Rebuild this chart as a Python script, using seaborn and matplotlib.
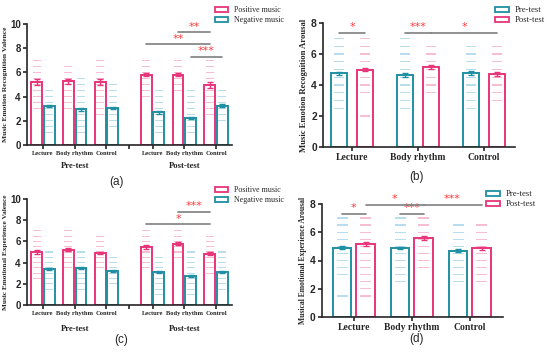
import numpy as np
import pandas as pd
import seaborn as sns
import matplotlib.pyplot as plt
from matplotlib.path import Path
from matplotlib.patches import Patch
from matplotlib.transforms import blended_transform_factory

PINK = "#E8347A"
TEAL = "#1F8FA3"
PALE_PINK = "#F7BDD3"
PALE_TEAL = "#B8DDEF"
LINE_GRAY = "#7F7F7F"
STAR_RED = "#FF3B3B"
SERIF = "Liberation Serif"
SANS = "Liberation Sans"

# ---------------- (a) Music Emotion Recognition Valence ----------------
A_GROUPS = ["Lecture", "Body rhythm", "Control", "Lecture", "Body rhythm", "Control"]
A_SERIES = ["Positive music", "Negative music"]
A_POS_MEAN = [5.2, 5.25, 5.2, 5.8, 5.8, 4.95]
A_NEG_MEAN = [3.2, 2.95, 3.05, 2.7, 2.25, 3.25]
A_POS_SEM = [0.22, 0.18, 0.22, 0.12, 0.12, 0.22]
A_NEG_SEM = [0.1, 0.1, 0.1, 0.1, 0.1, 0.12]
A_POS_PTS = [[3, 3.5, 4, 4.5, 5, 5.5, 6, 6.5, 7],
             [3, 3.5, 4, 4.5, 5, 5.5, 6, 6.5],
             [2.5, 3, 3.5, 4, 4.5, 5, 5.5, 6, 6.5, 7],
             [4, 4.5, 5, 5.5, 6, 6.5, 7],
             [4.5, 5, 5.5, 6, 6.5, 7],
             [2.5, 3, 3.5, 4, 4.5, 5, 5.5, 6, 6.5, 7]]
A_NEG_PTS = [[1, 1.5, 2, 2.5, 3, 3.5, 4, 4.5],
             [1, 1.5, 2, 2.5, 3, 3.5, 4, 4.5, 5, 5.5],
             [1.5, 2, 2.5, 3, 3.5, 4, 4.5, 5],
             [1, 1.5, 2, 2.5, 3, 3.5, 4, 4.5],
             [1, 1.5, 2, 2.5, 3, 3.5, 4, 4.5],
             [2, 2.5, 3, 3.5, 4, 4.5]]
# (group, series, group, series, height, label)
A_SIG = [(4, 0, 5, 0, 9.3, "**"), (3, 0, 5, 0, 8.35, "**"), (4, 1, 5, 1, 7.3, "***")]

# ---------------- (b) Music Emotion Recognition Arousal ----------------
B_GROUPS = ["Lecture", "Body rhythm", "Control"]
B_SERIES = ["Pre-test", "Post-test"]
B_PRE_MEAN = [4.75, 4.65, 4.78]
B_POST_MEAN = [5.0, 5.15, 4.7]
B_PRE_SEM = [0.12, 0.12, 0.12]
B_POST_SEM = [0.12, 0.12, 0.12]
B_PRE_PTS = [[2.5, 3, 3.5, 4, 4.5, 5, 5.5, 6, 6.5, 7],
             [2.5, 3, 3.5, 4, 4.5, 5, 5.5, 6, 6.5, 7],
             [2.5, 3, 3.5, 4, 4.5, 5, 5.5, 6, 6.5]]
B_POST_PTS = [[2, 3.5, 4, 4.5, 5, 5.5, 6, 6.5, 7],
              [3.5, 4, 4.5, 5, 5.5, 6, 6.5],
              [3, 3.5, 4, 4.5, 5, 5.5, 6, 6.5]]
B_SIG = [(0, 0, 0, 1, 7.35, "*"), (1, 0, 1, 1, 7.35, "***"), (1, 1, 2, 1, 7.35, "*")]

# ---------------- (c) Music Emotional Experience Valence ----------------
C_POS_MEAN = [5.0, 5.2, 4.9, 5.45, 5.8, 4.85]
C_NEG_MEAN = [3.4, 3.45, 3.2, 3.15, 2.75, 3.15]
C_POS_SEM = [0.2, 0.15, 0.12, 0.18, 0.12, 0.18]
C_NEG_SEM = [0.1, 0.1, 0.1, 0.1, 0.1, 0.1]
C_POS_PTS = [[2.5, 3, 3.5, 4, 4.5, 5, 5.5, 6, 6.5, 7],
             [3.5, 4, 4.5, 5, 5.5, 6, 6.5, 7],
             [3.5, 4, 4.5, 5, 5.5, 6, 6.5],
             [3.5, 4, 4.5, 5, 5.5, 6, 6.5, 7],
             [4.5, 5, 5.5, 6, 6.5, 7],
             [3, 3.5, 4, 4.5, 5, 5.5, 6, 6.5]]
C_NEG_PTS = [[1.5, 2, 2.5, 3, 3.5, 4, 4.5, 5],
             [1.5, 2, 2.5, 3, 3.5, 4, 4.5, 5],
             [2, 2.5, 3, 3.5, 4, 4.5],
             [1, 1.5, 2, 2.5, 3, 3.5, 4, 4.5],
             [1, 1.5, 2, 2.5, 3, 3.5, 4, 4.5, 5],
             [1.5, 2, 2.5, 3, 3.5, 4, 4.5, 5]]
C_SIG = [(4, 0, 5, 0, 8.8, "***"), (3, 0, 5, 0, 7.6, "*")]

# ---------------- (d) Musical Emotional Experience Arousal ----------------
D_PRE_MEAN = [4.9, 4.9, 4.7]
D_POST_MEAN = [5.15, 5.6, 4.85]
D_PRE_SEM = [0.1, 0.08, 0.12]
D_POST_SEM = [0.15, 0.12, 0.1]
D_PRE_PTS = [[1.5, 3, 3.5, 4, 4.5, 5, 5.5, 6, 6.5, 7],
             [2.5, 3, 3.5, 4, 4.5, 5, 5.5, 6, 6.5, 7],
             [2.5, 3, 3.5, 4, 4.5, 5, 5.5, 6, 6.5]]
D_POST_PTS = [[1.5, 2, 2.5, 3, 3.5, 4, 4.5, 5, 5.5, 6, 6.5, 7],
              [3.5, 4, 4.5, 5, 5.5, 6, 6.5, 7],
              [2.5, 3, 3.5, 4, 4.5, 5, 5.5, 6, 6.5]]
D_SIG = [(0, 0, 0, 1, 7.3, "*"), (1, 0, 1, 1, 7.3, "***"),
         (0, 1, 1, 1, 7.95, "*"), (1, 1, 2, 1, 7.95, "***")]

DASH = Path([(-1, -0.13), (1, -0.13), (1, 0.13), (-1, 0.13), (-1, -0.13)],
            [Path.MOVETO, Path.LINETO, Path.LINETO, Path.LINETO, Path.CLOSEPOLY])


def draw_panel(ax, xpos, series, means, sems, pts, colors, pales, gap, dash, sig, star_dy):
    rows = []
    for s, m in zip(series, means):
        for x, v in zip(xpos, m):
            rows.append((x, s, v))
    df = pd.DataFrame(rows, columns=["x", "series", "mean"])
    prow = []
    for s, plist in zip(series, pts):
        for x, vals in zip(xpos, plist):
            for v in vals:
                prow.append((x, s, v))
    dp = pd.DataFrame(prow, columns=["x", "series", "value"])

    sns.stripplot(data=dp, x="x", y="value", hue="series", hue_order=series,
                  palette=pales, native_scale=True, dodge=True, jitter=False,
                  marker=DASH, size=dash, linewidth=0, legend=False, ax=ax, zorder=1)
    sns.barplot(data=df, x="x", y="mean", hue="series", hue_order=series,
                palette=colors, native_scale=True, dodge=True, width=0.8, gap=gap,
                fill=False, linewidth=1.4, errorbar=None, legend=False, ax=ax, zorder=2)

    # error bars (SEM) on top of each bar
    centers = {}
    xa = np.array(xpos)
    for p in list(ax.patches):
        cx = p.get_x() + p.get_width() / 2
        top = p.get_height()
        gi = int(np.argmin(np.abs(xa - cx)))
        hi = 0 if cx < xa[gi] else 1
        centers[(gi, hi)] = cx
        ax.errorbar(cx, top, yerr=sems[hi][gi], color=p.get_edgecolor(),
                    capsize=2.2, elinewidth=1, capthick=1, zorder=3)

    # significance brackets
    for g1, h1, g2, h2, y, lab in sig:
        x1, x2 = centers[(g1, h1)], centers[(g2, h2)]
        ax.plot([x1, x2], [y, y], color=LINE_GRAY, lw=1.2, clip_on=False, zorder=4)
        ax.text((x1 + x2) / 2, y + star_dy, lab, color=STAR_RED, ha="center",
                va="center", fontsize=8, family="DejaVu Sans", clip_on=False)

    sns.despine(ax=ax)
    for sp in ("left", "bottom"):
        ax.spines[sp].set_linewidth(1.2)
    ax.tick_params(width=1.2, length=3, direction="out", pad=1.5)
    ax.set_xlabel("")


sns.set_style("ticks")
plt.rcParams["font.family"] = [SERIF, "DejaVu Sans"]

W, H = 550, 352
fig = plt.figure(figsize=(W / 100, H / 100), dpi=100)


def add_ax(left, bottom, width, height):
    return fig.add_axes([left / W, 1 - bottom / H, width / W, height / H])


def legend(labels, colors, x, y, fs=5.8):
    handles = [Patch(facecolor="white", edgecolor=c, lw=1.3) for c in colors]
    fig.legend(handles, labels, loc="upper left", bbox_to_anchor=(x / W, 1 - y / H),
               frameon=False, fontsize=fs, borderpad=0, handlelength=1.6,
               handleheight=0.6, labelspacing=0.25, handletextpad=0.7)


def style_y(ax, ymax, fs):
    ax.set_ylim(0, ymax)
    ax.set_yticks(np.arange(0, ymax + 1, 2))
    for t in ax.get_yticklabels():
        t.set_fontfamily(SANS)
        t.set_fontweight("bold")
        t.set_fontsize(fs)


# ----- (a) -----
xa = [0, 1, 2, 3.45, 4.45, 5.45]
ax = add_ax(27, 145, 205, 121)
draw_panel(ax, xa, A_SERIES, [A_POS_MEAN, A_NEG_MEAN], [A_POS_SEM, A_NEG_SEM],
           [A_POS_PTS, A_NEG_PTS], [PINK, TEAL], [PALE_PINK, PALE_TEAL], 0.15, 5.8,
           A_SIG, 0.45)
ax.set_xlim(-0.5, 5.95)
ax.set_xticks(xa + [2.7])
ax.set_xticklabels(A_GROUPS + [""], fontsize=4.7, fontweight="bold")
style_y(ax, 10, 7)
ax.set_ylabel("Music Emotion Recognition Valence", fontsize=5.4, fontweight="bold")
ax.yaxis.set_label_coords(-0.093, 0.5)
tr = blended_transform_factory(ax.transData, ax.transAxes)
ax.text(1, -0.175, "Pre-test", transform=tr, ha="center", va="center", fontsize=6.2, fontweight="bold")
ax.text(4.45, -0.175, "Post-test", transform=tr, ha="center", va="center", fontsize=6.2, fontweight="bold")
legend(A_SERIES, [PINK, TEAL], 211, 2)

# ----- (b) -----
xb = [0, 1, 2]
ax = add_ax(323, 147, 192, 124)
draw_panel(ax, xb, B_SERIES, [B_PRE_MEAN, B_POST_MEAN], [B_PRE_SEM, B_POST_SEM],
           [B_PRE_PTS, B_POST_PTS], [TEAL, PINK], [PALE_TEAL, PALE_PINK], 0.4, 7.5,
           B_SIG, 0.4)
ax.set_xlim(-0.44, 2.47)
ax.set_xticks(xb)
ax.set_xticklabels(B_GROUPS, fontsize=6.9, fontweight="bold")
style_y(ax, 8, 7.4)
ax.set_ylabel("Music Emotion Recognition Arousal", fontsize=6.2, fontweight="bold")
ax.yaxis.set_label_coords(-0.078, 0.5)
legend(B_SERIES, [TEAL, PINK], 491, 2, fs=6.2)

# ----- (c) -----
ax = add_ax(27, 305, 205, 106)
draw_panel(ax, xa, A_SERIES, [C_POS_MEAN, C_NEG_MEAN], [C_POS_SEM, C_NEG_SEM],
           [C_POS_PTS, C_NEG_PTS], [PINK, TEAL], [PALE_PINK, PALE_TEAL], 0.15, 5.8,
           C_SIG, 0.5)
ax.set_xlim(-0.5, 5.95)
ax.set_xticks(xa + [2.7])
ax.set_xticklabels(A_GROUPS + [""], fontsize=4.7, fontweight="bold")
style_y(ax, 10, 7)
ax.set_ylabel("Music Emotional Experience Valence", fontsize=5.2, fontweight="bold")
ax.yaxis.set_label_coords(-0.093, 0.5)
tr = blended_transform_factory(ax.transData, ax.transAxes)
ax.text(1, -0.226, "Pre-test", transform=tr, ha="center", va="center", fontsize=6.2, fontweight="bold")
ax.text(4.45, -0.226, "Post-test", transform=tr, ha="center", va="center", fontsize=6.2, fontweight="bold")
legend(A_SERIES, [PINK, TEAL], 211, 182)

# ----- (d) -----
ax = add_ax(322, 317, 181, 113)
draw_panel(ax, xb, B_SERIES, [D_PRE_MEAN, D_POST_MEAN], [D_PRE_SEM, D_POST_SEM],
           [D_PRE_PTS, D_POST_PTS], [TEAL, PINK], [PALE_TEAL, PALE_PINK], 0.22, 8,
           D_SIG, 0.42)
ax.set_xlim(-0.55, 2.57)
ax.set_xticks(xb)
ax.set_xticklabels(B_GROUPS, fontsize=6.9, fontweight="bold")
style_y(ax, 8, 7.4)
ax.set_ylabel("Musical Emotional Experience Arousal", fontsize=5.5, fontweight="bold")
ax.yaxis.set_label_coords(-0.083, 0.5)
legend(B_SERIES, [TEAL, PINK], 482, 186, fs=6.2)

# panel letters
for lab, x, y in [("(a)", 117, 182), ("(b)", 416, 177), ("(c)", 121, 340), ("(d)", 416, 339)]:
    fig.text(x / W, 1 - y / H, lab, ha="center", va="center", fontsize=8.5, family=SANS)

fig.savefig("out.png", dpi=100)
